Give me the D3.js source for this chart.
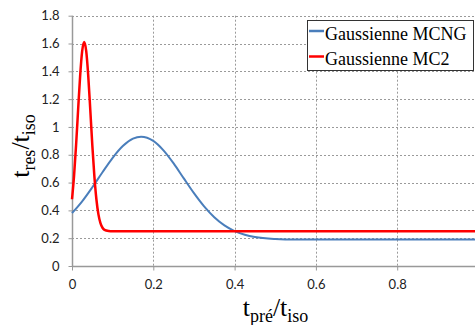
<!DOCTYPE html>
<html><head><meta charset="utf-8">
<script src="https://cdn.jsdelivr.net/npm/d3@7"></script>
<style>html,body{margin:0;padding:0;background:#fff;}</style>
</head><body>
<svg id="c" width="475" height="325"></svg>
<script>
const mcngX = [0,0.025,0.05,0.075,0.1,0.125,0.15,0.17,0.2,0.225,0.25,0.275,0.3,0.325,0.35,0.375,0.4,0.425,0.45,0.5,0.55,0.6,0.7,0.8,0.9,1.0];
const mcngY = [0.38,0.465,0.566,0.674,0.778,0.863,0.916,0.93,0.90,0.832,0.738,0.63,0.524,0.429,0.351,0.292,0.251,0.225,0.208,0.194,0.19,0.19,0.19,0.19,0.19,0.19];
const mc2X = [0,0.005,0.01,0.015,0.02,0.025,0.03,0.035,0.04,0.045,0.05,0.055,0.06,0.065,0.07,0.075,0.08,0.09,0.1,0.2,0.4,0.6,0.8,1.0];
const mc2Y = [0.48,0.646,0.867,1.122,1.366,1.545,1.61,1.545,1.366,1.122,0.867,0.646,0.48,0.371,0.308,0.275,0.26,0.252,0.25,0.25,0.25,0.25,0.25,0.25];
const seriesNames = ["Gaussienne MCNG","Gaussienne MC2"];
const seriesColors = ["#4a7ebb","#ff0000"];
const xTicks = [0,0.2,0.4,0.6,0.8,1.0];
const yTicks = [0,0.2,0.4,0.6,0.8,1,1.2,1.4,1.6,1.8];

const svg = d3.select("#c");
const x = d3.scaleLinear().domain([0,1]).range([72,478.5]);
const y = d3.scaleLinear().domain([0,1.8]).range([266,15.7]);

// grid
const grid = svg.append("g").attr("stroke","#9a9a9a").attr("stroke-width",1).attr("stroke-dasharray","2,2");
yTicks.filter(d=>d>0).forEach(t=>{
  grid.append("line").attr("x1",x(0)).attr("x2",475).attr("y1",Math.round(y(t))+0.5).attr("y2",Math.round(y(t))+0.5);
});
xTicks.filter(d=>d>0).forEach(t=>{
  grid.append("line").attr("y1",y(1.8)).attr("y2",y(0)).attr("x1",Math.round(x(t))+0.5).attr("x2",Math.round(x(t))+0.5);
});

// axes
const xAxis = d3.axisBottom(x).tickValues(xTicks.filter(d=>d<1)).tickSize(4).tickFormat(d=>d===0?"0":d3.format(".1f")(d));
const gx = svg.append("g").attr("transform",`translate(0,${Math.round(y(0))+0.5})`).call(xAxis);
gx.select(".domain").attr("stroke","#999").attr("stroke-width",1.5).attr("d",`M${x(0)},0H475`);
gx.selectAll(".tick line").attr("stroke","#999");
gx.selectAll(".tick text").attr("font-family","Lato, 'Open Sans', sans-serif").attr("font-size",13).attr("fill","#222").attr("dy","1.2em");

const yAxis = d3.axisLeft(y).tickValues(yTicks).tickSize(4).tickFormat(d=>d===0?"0":(d===1?"1":d3.format(".1f")(d)));
const gy = svg.append("g").attr("transform",`translate(${Math.round(x(0))+0.5},0)`).call(yAxis);
gy.select(".domain").attr("stroke","#999").attr("stroke-width",1.5).attr("d",`M0,${y(1.8)}V${y(0)}`);
gy.selectAll(".tick line").attr("stroke","#999");
gy.selectAll(".tick text").attr("font-family","Lato, 'Open Sans', sans-serif").attr("font-size",13).attr("fill","#222").attr("x",-13);

// lines
svg.append("clipPath").attr("id","clp").append("rect").attr("x",x(0)-3).attr("y",0).attr("width",475-x(0)+3).attr("height",y(0)+2);
const line = d3.line().x(d=>x(d[0])).y(d=>y(d[1])).curve(d3.curveMonotoneX);
const dataSets = [d3.zip(mcngX,mcngY), d3.zip(mc2X,mc2Y)];
dataSets.forEach((ds,i)=>{
  svg.append("path").datum(ds).attr("d",line).attr("fill","none")
    .attr("stroke",seriesColors[i]).attr("stroke-width",i===0?2:2.5).attr("clip-path","url(#clp)");
});

// legend
const lg = svg.append("g");
lg.append("rect").attr("x",307.5).attr("y",20.5).attr("width",166).attr("height",50).attr("fill","#fff").attr("stroke","#333").attr("stroke-width",1);
seriesNames.forEach((n,i)=>{
  const cy = 31 + i*25.5;
  lg.append("line").attr("x1",309).attr("x2",324).attr("y1",cy).attr("y2",cy).attr("stroke",seriesColors[i]).attr("stroke-width",2.5);
  lg.append("text").attr("x",325).attr("y",cy+8.5).attr("font-family","'Liberation Serif', serif").attr("font-size",18).attr("fill","#000").text(n);
});

// axis titles
const xt = svg.append("text").attr("x",275.5).attr("y",316).attr("text-anchor","middle")
  .attr("font-family","'Liberation Serif', serif").attr("font-size",26).attr("fill","#000");
xt.append("tspan").text("t");
xt.append("tspan").attr("font-size",18).attr("dy",6).text("pré");
xt.append("tspan").attr("dy",-6).text("/t");
xt.append("tspan").attr("font-size",18).attr("dy",6).text("iso");

const yt = svg.append("text").attr("transform","translate(29,146) rotate(-90)").attr("text-anchor","middle")
  .attr("font-family","'Liberation Serif', serif").attr("font-size",26).attr("fill","#000");
yt.append("tspan").text("t");
yt.append("tspan").attr("font-size",18).attr("dy",6).text("res");
yt.append("tspan").attr("dy",-6).text("/t");
yt.append("tspan").attr("font-size",18).attr("dy",6).text("iso");
</script>
</body></html>
